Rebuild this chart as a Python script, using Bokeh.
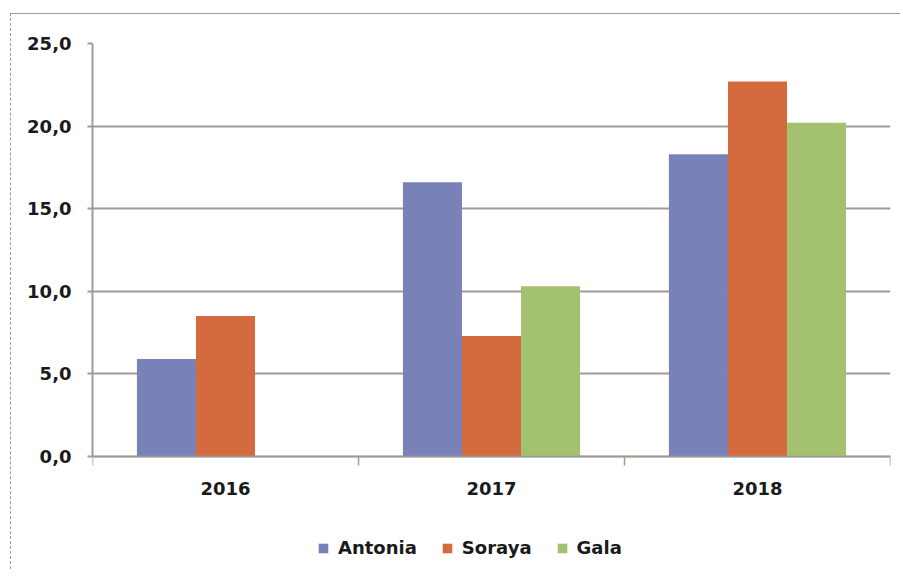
import math
from bokeh.plotting import figure
from bokeh.models import ColumnDataSource, FixedTicker, Legend, LegendItem, Range1d
from bokeh.embed import file_html
from bokeh.resources import INLINE

years = ["2016", "2017", "2018"]
antonia = [5.9, 16.6, 18.3]
soraya = [8.5, 7.3, 22.7]
gala = [None, 10.3, 20.2]
series_names = ["Antonia", "Soraya", "Gala"]
series_colors = ["#7882B8", "#D46B3E", "#A3C171"]
y_ticks = [0, 5, 10, 15, 20, 25]
y_tick_labels = ["0,0", "5,0", "10,0", "15,0", "20,0", "25,0"]

GRID = "#A39A95"
FONT = "DejaVu Sans"

# frame extends below zero so that the category axis (fixed at 0) and the
# legend can sit inside it
p = figure(width=890, height=556, output_backend="svg", toolbar_location=None,
           x_range=Range1d(0, 3), y_range=Range1d(-6.66, 25),
           min_border_left=81, min_border_right=11, min_border_top=29, min_border_bottom=4)
p.margin = (13, 0, 0, 10)
p.styles = {"border-top": "1px solid " + GRID, "border-left": "1px dashed " + GRID}
p.outline_line_color = None
p.background_fill_color = "white"

bw = 0.222
offsets = [-bw, 0.0, bw]
renderers = []
for name, vals, col, off in zip(series_names, [antonia, soraya, gala], series_colors, offsets):
    xs = [i + 0.5 + off for i in range(len(years))]
    tops = [float("nan") if v is None else v for v in vals]
    src = ColumnDataSource(dict(x=xs, top=tops))
    r = p.vbar(x="x", top="top", width=bw, bottom=0, source=src,
               fill_color=col, line_color=None)
    renderers.append((name, r))

# axes
p.xgrid.visible = False
p.ygrid.grid_line_color = GRID
p.ygrid.grid_line_width = 2
p.ygrid.ticker = FixedTicker(ticks=y_ticks)

yax = p.yaxis[0]
yax.ticker = FixedTicker(ticks=y_ticks)
yax.bounds = (0, 25)
yax.major_label_overrides = {t: l for t, l in zip(y_ticks, y_tick_labels)}
yax.axis_line_color = GRID
yax.axis_line_width = 2
yax.major_tick_line_color = GRID
yax.major_tick_line_width = 2
yax.major_tick_out = 5
yax.major_tick_in = 0
yax.minor_tick_line_color = None
yax.major_label_standoff = 16
yax.major_label_text_font = FONT
yax.major_label_text_font_style = "bold"
yax.major_label_text_font_size = "18px"
yax.major_label_text_color = "#1a1a1a"

xax = p.xaxis[0]
xax.fixed_location = 0
xax.ticker = FixedTicker(ticks=[i + 0.5 for i in range(len(years))],
                         minor_ticks=list(range(len(years) + 1)))
xax.major_label_overrides = {i + 0.5: y for i, y in enumerate(years)}
xax.axis_line_color = GRID
xax.axis_line_width = 1.5
xax.major_tick_line_color = None
xax.major_tick_out = 9
xax.major_tick_in = 0
xax.minor_tick_line_color = GRID
xax.minor_tick_line_width = 1.5
xax.minor_tick_out = 9
xax.minor_tick_in = 0
xax.major_label_standoff = 17
xax.major_label_text_font = FONT
xax.major_label_text_font_style = "bold"
xax.major_label_text_font_size = "18px"
xax.major_label_text_color = "#1a1a1a"

legend = Legend(items=[LegendItem(label=n, renderers=[r]) for n, r in renderers],
                orientation="horizontal", location=(225, 8),
                glyph_width=12, glyph_height=12, label_standoff=9, spacing=24,
                padding=0, margin=0, border_line_color=None,
                background_fill_alpha=0,
                label_text_font=FONT, label_text_font_style="bold",
                label_text_font_size="18px", label_text_color="#1a1a1a")
p.add_layout(legend, "center")

open("out.html", "w").write(file_html(p, INLINE))
